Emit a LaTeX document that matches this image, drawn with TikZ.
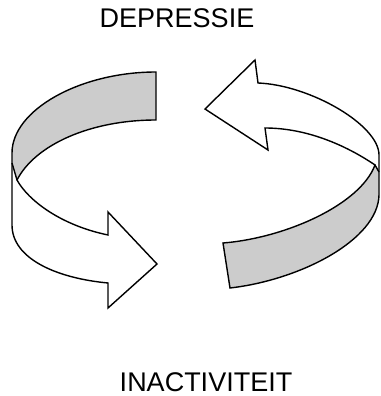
\documentclass[tikz,border=0pt]{standalone}
\usepackage{fontspec}
\setmainfont{Liberation Sans}
\definecolor{ribbongrey}{RGB}{204,204,204}
\tikzset{
  outline/.style={draw=black, line width=1.4pt, line join=miter},
  band/.style={fill=ribbongrey},
  wordlabel/.style={font=\fontsize{27}{32}\selectfont, inner sep=0pt, anchor=base}
}
\begin{document}
\begin{tikzpicture}[x=1pt,y=-1pt]
\useasboundingbox (0,0) rectangle (380,396);
% labels
\node[wordlabel] (dep) at (177,28) {DEPRESSIE};
\node[wordlabel] (inact) at (206,391) {INACTIVITEIT};
% left arrow points
\coordinate (A) at (156,72);
\coordinate (B) at (156,120);
\coordinate (C) at (17,180);
\coordinate (L1) at (12,153);
\coordinate (L2) at (12,163);
\coordinate (L3) at (12,225);
\coordinate (F) at (108,283);
\coordinate (Fb) at (108,308);
\coordinate (TipL) at (157,264);
\coordinate (Db) at (108,212);
\coordinate (D) at (108,235);
\fill[band] (A) .. controls (80,72) and (12,110) .. (L1) -- (L2) -- (C)
  .. controls (35,145) and (90,120) .. (B) -- cycle;
\draw[outline] (A) .. controls (80,72) and (12,110) .. (L1) -- (L3)
  .. controls (12,258) and (55,278) .. (F) -- (Fb) -- (TipL) -- (Db) -- (D)
  .. controls (60,225) and (28,200) .. (C)
  .. controls (35,145) and (90,120) .. (B) -- cycle;
\draw[outline] (L2) -- (C);
% right arrow points
\coordinate (T) at (205,109);
\coordinate (Ta) at (255,60);
\coordinate (Tn) at (258,83);
\coordinate (R1) at (379,155);
\coordinate (R2) at (379,172);
\coordinate (R3) at (379,195);
\coordinate (Gb) at (230,288);
\coordinate (Gt) at (223,243);
\coordinate (G) at (375,165);
\coordinate (Nn) at (265,128);
\coordinate (Nb) at (268,150);
\fill[band] (G) -- (R2) -- (R3) .. controls (378,240) and (300,280) .. (Gb) -- (Gt)
  .. controls (285,238) and (360,205) .. (G) -- cycle;
\draw[outline] (T) -- (Ta) -- (Tn) .. controls (310,85) and (379,125) .. (R1) -- (R3)
  .. controls (378,240) and (300,280) .. (Gb) -- (Gt)
  .. controls (285,238) and (360,205) .. (G)
  .. controls (350,148) and (310,128) .. (Nn) -- (Nb) -- cycle;
\draw[outline] (G) -- (R2);
\end{tikzpicture}
\end{document}
